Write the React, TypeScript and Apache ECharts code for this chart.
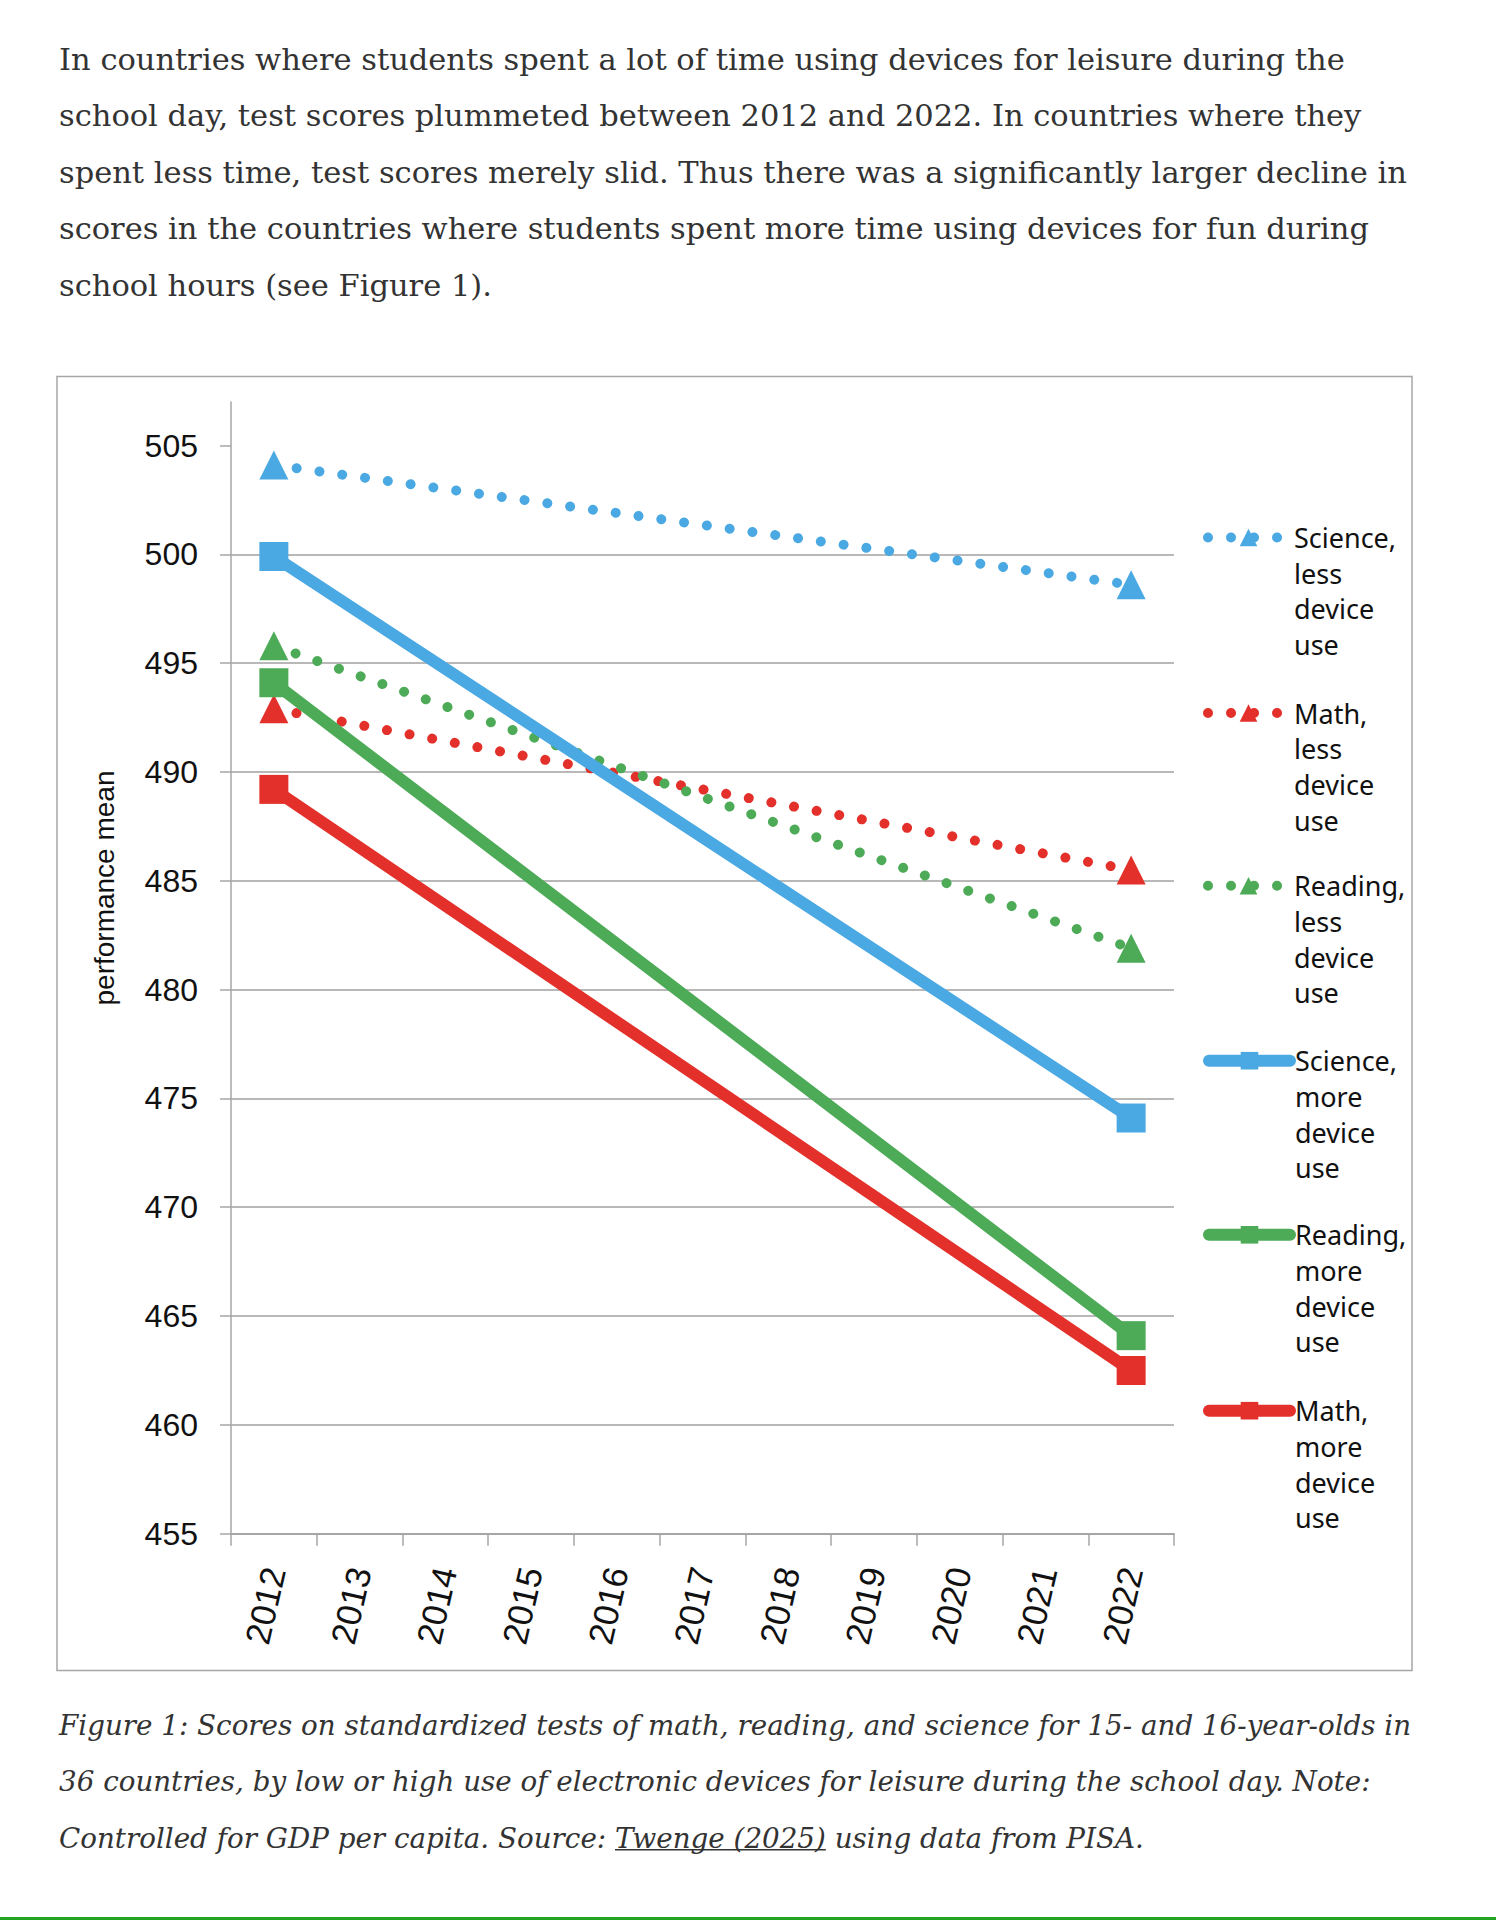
import React, { useEffect, useRef } from 'react';
import * as echarts from 'echarts';

const W = 1496;
const H = 1920;

// ---- data ----
const years = ['2012', '2013', '2014', '2015', '2016', '2017', '2018', '2019', '2020', '2021', '2022'];
const endYears = ['2012', '2022'];
const yTicks = [455, 460, 465, 470, 475, 480, 485, 490, 495, 500, 505];

const scienceLess = [504.1, 498.6];
const mathLess = [492.9, 485.5];
const readingLess = [495.8, 481.9];
const scienceMore = [499.9, 474.1];
const readingMore = [494.1, 464.1];
const mathMore = [489.2, 462.5];

const seriesNames = [
  'Science, less device use',
  'Math, less device use',
  'Reading, less device use',
  'Science, more device use',
  'Reading, more device use',
  'Math, more device use',
];

const paragraphLines = [
  'In countries where students spent a lot of time using devices for leisure during the',
  'school day, test scores plummeted between 2012 and 2022. In countries where they',
  'spent less time, test scores merely slid. Thus there was a significantly larger decline in',
  'scores in the countries where students spent more time using devices for fun during',
  'school hours (see Figure 1).',
];

const captionLines = [
  'Figure 1: Scores on standardized tests of math, reading, and science for 15- and 16-year-olds in',
  '36 countries, by low or high use of electronic devices for leisure during the school day. Note:',
];
const captionLast = ['Controlled for GDP per capita. Source: ', 'Twenge (2025)', ' using data from PISA.'];

const yTitle = 'performance mean';

// ---- style ----
const BLUE = '#4AA8E2';
const RED = '#E3302A';
const GREEN = '#4DAA57';
const SERIF = 'DejaVu Serif';
const SANS = 'Liberation Sans';

function measure(text: string, font: string): number {
  const c = document.createElement('canvas').getContext('2d') as CanvasRenderingContext2D;
  c.font = font;
  return c.measureText(text).width;
}

function makeSeries(name: string, vals: number[], color: string, dotted: boolean, symbol: string) {
  return {
    name,
    type: 'line',
    data: endYears.map((y, i) => [y, vals[i]]),
    symbol,
    symbolSize: 29,
    showSymbol: true,
    connectNulls: true,
    lineStyle: dotted
      ? { color, width: 10, type: [0.01, 23], cap: 'round' }
      : { color, width: 12, cap: 'round' },
    itemStyle: { color },
    emphasis: { disabled: true },
  };
}

export default function App() {
  const ref = useRef<HTMLDivElement>(null);

  useEffect(() => {
    if (!ref.current) return;
    const chart = echarts.init(ref.current, null, { renderer: 'svg', width: W, height: H });

    const paraFs = (100 * 1286) / measure(paragraphLines[0], `100px "${SERIF}"`);
    const capFs = (100 * 1353) / measure(captionLines[0], `italic 100px "${SERIF}"`);

    const paraY0 = 59.5;
    const paraStep = 56.4;
    const capY0 = 1725.5;
    const capStep = 56.3;
    const textX = 59;

    const graphics: any[] = [];
    paragraphLines.forEach((t, i) => {
      graphics.push({
        type: 'text',
        x: textX,
        y: paraY0 + i * paraStep,
        style: {
          text: t,
          fontSize: paraFs,
          fontFamily: SERIF,
          fill: '#333333',
          align: 'left',
          verticalAlign: 'middle',
        },
      });
    });

    const capFont = `italic ${capFs}px "${SERIF}"`;
    captionLines.forEach((t, i) => {
      graphics.push({
        type: 'text',
        x: textX,
        y: capY0 + i * capStep,
        style: {
          text: t,
          fontSize: capFs,
          fontFamily: SERIF,
          fontStyle: 'italic',
          fill: '#333333',
          align: 'left',
          verticalAlign: 'middle',
        },
      });
    });
    const lastY = capY0 + 2 * capStep;
    graphics.push({
      type: 'text',
      x: textX,
      y: lastY,
      style: {
        text: captionLast.join(''),
        fontSize: capFs,
        fontFamily: SERIF,
        fontStyle: 'italic',
        fill: '#333333',
        align: 'left',
        verticalAlign: 'middle',
      },
    });
    const ulStart = textX + measure(captionLast[0], capFont);
    const ulEnd = ulStart + measure(captionLast[1], capFont);
    graphics.push({
      type: 'line',
      shape: { x1: ulStart, y1: lastY + capFs * 0.42, x2: ulEnd, y2: lastY + capFs * 0.42 },
      style: { stroke: '#333333', lineWidth: 1.5 },
    });

    // chart frame
    graphics.push({
      type: 'rect',
      shape: { x: 57, y: 376.5, width: 1355, height: 1294 },
      style: { fill: 'none', stroke: '#a6a6a6', lineWidth: 1.5 },
      z: -1,
    });
    // y axis title
    graphics.push({
      type: 'text',
      x: 104,
      y: 888,
      rotation: Math.PI / 2,
      style: {
        text: yTitle,
        fontSize: 28,
        fontFamily: SANS,
        fill: '#111111',
        align: 'center',
        verticalAlign: 'middle',
      },
    });
    // bottom green rule
    graphics.push({
      type: 'rect',
      shape: { x: 0, y: 1917, width: W, height: 3 },
      style: { fill: '#22a322' },
    });

    // legend: one block per series, first text line aligned with its icon
    const legendLineCenters = [537.5, 713, 885.7, 1060.7, 1234.8, 1410.7];
    const legendLH = 35.7;
    const legends = seriesNames.map((name, i) => ({
      orient: 'vertical',
      left: 1203,
      top: legendLineCenters[i] - 11 - 3.5 * legendLH + 11,
      padding: 0,
      itemWidth: 81,
      itemHeight: 22,
      selectedMode: false,
      data: [name],
      formatter: (n: string) => '\n\n\n' + n.split(' ').join('\n'),
      textStyle: {
        fontFamily: 'Noto Sans',
        fontSize: 27,
        color: '#111111',
        lineHeight: legendLH,
      },
      lineStyle: { width: 'inherit' },
    }));

    const option: any = {
      animation: false,
      backgroundColor: '#ffffff',
      grid: { left: 231, right: 322, top: 402, bottom: 386.3, containLabel: false, outerBoundsMode: 'none' },
      xAxis: {
        type: 'category',
        data: years,
        boundaryGap: true,
        axisLine: { lineStyle: { color: '#a6a6a6', width: 2 } },
        axisTick: { show: true, length: 12, lineStyle: { color: '#a6a6a6', width: 1.5 } },
        axisLabel: {
          rotate: 77,
          interval: 0,
          fontSize: 35,
          fontFamily: SANS,
          color: '#111111',
          margin: 34,
        },
        splitLine: { show: false },
      },
      yAxis: {
        type: 'value',
        min: 455,
        max: 507,
        interval: 5,
        axisLine: { show: true, lineStyle: { color: '#a6a6a6', width: 1.5 } },
        axisTick: { show: true, length: 11, lineStyle: { color: '#a6a6a6', width: 1.5 }, customValues: yTicks },
        axisLabel: { fontSize: 32, fontFamily: SANS, color: '#111111', margin: 33, customValues: yTicks },
        splitLine: { show: true, showMaxLine: false, lineStyle: { color: '#a0a0a0', width: 1.5 } },
      },
      legend: legends,
      graphic: { elements: graphics },
      series: [
        makeSeries(seriesNames[0], scienceLess, BLUE, true, 'triangle'),
        makeSeries(seriesNames[1], mathLess, RED, true, 'triangle'),
        makeSeries(seriesNames[2], readingLess, GREEN, true, 'triangle'),
        makeSeries(seriesNames[3], scienceMore, BLUE, false, 'rect'),
        makeSeries(seriesNames[4], readingMore, GREEN, false, 'rect'),
        makeSeries(seriesNames[5], mathMore, RED, false, 'rect'),
      ],
    };

    chart.setOption(option);
    return () => {
      chart.dispose();
    };
  }, []);

  return (
    <div
      ref={ref}
      style={{ position: 'absolute', left: 0, top: 0, width: W, height: H, background: '#fff' }}
    />
  );
}
